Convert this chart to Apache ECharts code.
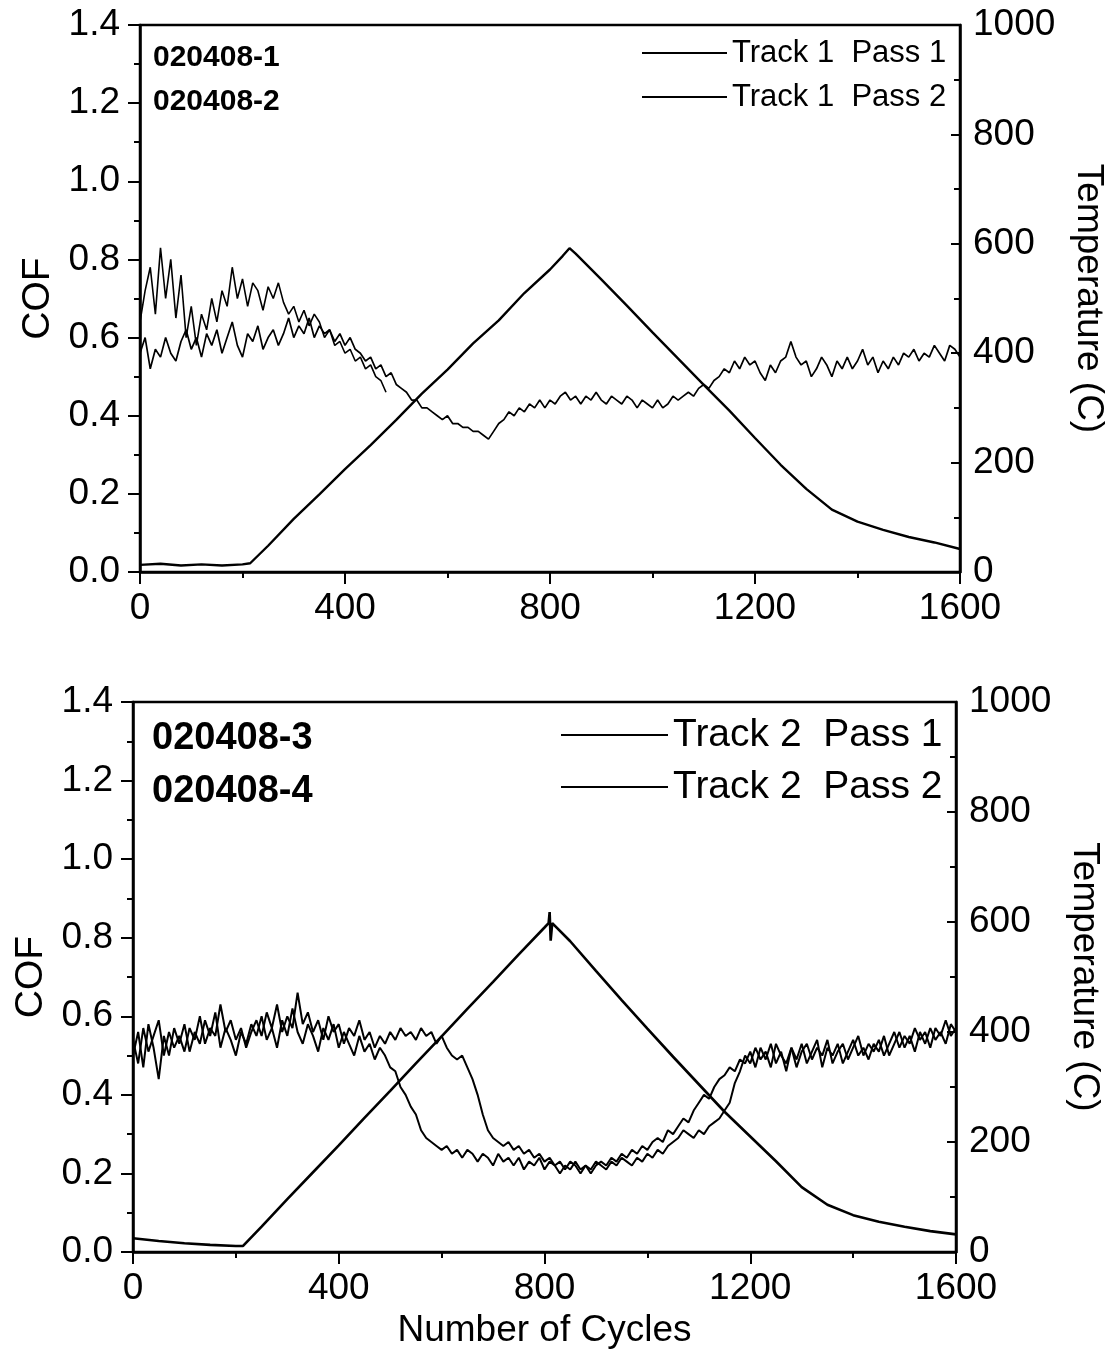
<!DOCTYPE html>
<html><head><meta charset="utf-8">
<script src="https://cdn.jsdelivr.net/npm/echarts@6/dist/echarts.min.js"></script>
<style>html,body{margin:0;padding:0;background:#fff}#c{width:1111px;height:1364px}</style>
</head><body><div id="c"></div>
<script>
// ---------- DATA ----------
const STEP = 10; // cycles between COF samples
const xTicks = [0, 400, 800, 1200, 1600];

// Top panel: COF, Track 1
const top_pass1_cof = [
0.56,0.60,0.52,0.57,0.55,0.60,0.56,0.54,0.59,0.62,
0.57,0.60,0.55,0.61,0.58,0.62,0.56,0.60,0.64,0.58,
0.55,0.61,0.59,0.63,0.57,0.60,0.62,0.58,0.61,0.65,
0.60,0.63,0.61,0.65,0.60,0.63,0.61,0.62,0.59,0.61,
0.58,0.60,0.57,0.56,0.54,0.55,0.52,0.53,0.50,0.51,
0.48,0.47,0.46,0.44,0.44,0.42,0.42,0.41,0.40,0.39,
0.40,0.38,0.38,0.37,0.37,0.36,0.36,0.35,0.34,0.36,
0.38,0.39,0.41,0.40,0.42,0.41,0.43,0.42,0.44,0.42,
0.44,0.43,0.45,0.46,0.44,0.45,0.43,0.45,0.44,0.46,
0.44,0.43,0.45,0.44,0.43,0.45,0.44,0.42,0.44,0.43,
0.42,0.44,0.42,0.43,0.45,0.44,0.45,0.46,0.45,0.47,
0.48,0.47,0.49,0.50,0.52,0.51,0.54,0.52,0.55,0.53,
0.54,0.51,0.49,0.53,0.51,0.54,0.55,0.59,0.55,0.53,
0.54,0.50,0.52,0.55,0.53,0.50,0.54,0.52,0.55,0.52,
0.54,0.57,0.53,0.55,0.51,0.54,0.52,0.55,0.53,0.56,
0.55,0.57,0.54,0.56,0.55,0.58,0.56,0.54,0.58,0.57,
0.55];
const top_pass2_cof = [
0.64,0.72,0.78,0.66,0.83,0.70,0.80,0.65,0.76,0.60,
0.68,0.58,0.66,0.62,0.70,0.64,0.72,0.68,0.78,0.70,
0.75,0.68,0.74,0.72,0.67,0.73,0.70,0.74,0.69,0.66,
0.68,0.64,0.67,0.63,0.66,0.64,0.60,0.62,0.58,0.59,
0.56,0.57,0.54,0.55,0.52,0.53,0.50,0.49,0.46];
// Top panel: temperature (C)
const top_temp_cycles = [0,40,80,120,160,200,215,250,300,350,400,450,500,550,600,650,700,750,800,825,838,850,900,950,1000,1050,1100,1150,1200,1250,1300,1350,1400,1450,1500,1550,1600];
const top_temp_values = [13,15,12,14,12,14,16,48,97,142,188,232,278,326,370,418,460,510,553,578,592,582,535,487,438,390,342,295,245,196,152,114,92,77,64,54,42];

// Bottom panel: COF, Track 2
const bot_pass1_cof = [
0.50,0.56,0.47,0.58,0.52,0.44,0.55,0.50,0.57,0.53,
0.58,0.51,0.56,0.53,0.59,0.55,0.61,0.52,0.57,0.54,
0.50,0.56,0.53,0.58,0.55,0.60,0.54,0.57,0.52,0.59,
0.55,0.62,0.56,0.53,0.58,0.55,0.51,0.57,0.54,0.58,
0.52,0.56,0.53,0.50,0.55,0.51,0.53,0.49,0.52,0.50,
0.47,0.46,0.42,0.40,0.37,0.35,0.31,0.29,0.28,0.27,
0.26,0.27,0.25,0.26,0.24,0.26,0.25,0.23,0.25,0.24,
0.22,0.25,0.23,0.24,0.22,0.24,0.21,0.23,0.22,0.24,
0.21,0.23,0.22,0.20,0.22,0.21,0.23,0.21,0.22,0.20,
0.22,0.23,0.22,0.24,0.23,0.25,0.24,0.26,0.25,0.27,
0.26,0.28,0.29,0.28,0.31,0.30,0.32,0.34,0.33,0.36,
0.38,0.40,0.39,0.42,0.44,0.45,0.47,0.46,0.49,0.48,
0.51,0.47,0.52,0.49,0.53,0.48,0.51,0.46,0.52,0.49,
0.53,0.48,0.51,0.54,0.47,0.52,0.50,0.53,0.48,0.51,
0.54,0.50,0.52,0.49,0.53,0.51,0.55,0.50,0.53,0.56,
0.52,0.55,0.51,0.56,0.53,0.57,0.54,0.56,0.53,0.58,
0.56];
const bot_pass2_cof = [
0.54,0.48,0.57,0.51,0.55,0.59,0.50,0.56,0.52,0.55,
0.51,0.57,0.54,0.60,0.53,0.57,0.55,0.63,0.56,0.59,
0.54,0.57,0.52,0.56,0.59,0.55,0.61,0.57,0.63,0.56,
0.60,0.57,0.66,0.58,0.61,0.56,0.59,0.54,0.60,0.56,
0.58,0.53,0.57,0.55,0.59,0.54,0.56,0.52,0.55,0.53,
0.56,0.54,0.57,0.55,0.56,0.54,0.57,0.55,0.56,0.53,
0.55,0.52,0.50,0.49,0.50,0.47,0.44,0.40,0.35,0.31,
0.29,0.28,0.27,0.28,0.26,0.27,0.25,0.26,0.24,0.25,
0.23,0.24,0.22,0.23,0.21,0.23,0.22,0.20,0.22,0.21,
0.23,0.22,0.21,0.23,0.22,0.24,0.23,0.22,0.24,0.23,
0.25,0.24,0.26,0.25,0.27,0.28,0.29,0.31,0.30,0.29,
0.31,0.30,0.32,0.33,0.34,0.36,0.38,0.43,0.46,0.50,
0.48,0.52,0.49,0.51,0.47,0.53,0.50,0.48,0.52,0.47,
0.51,0.53,0.49,0.52,0.50,0.54,0.48,0.51,0.53,0.49,
0.52,0.55,0.50,0.53,0.51,0.54,0.50,0.53,0.56,0.52,
0.55,0.53,0.57,0.54,0.56,0.52,0.57,0.55,0.59,0.55,
0.57];
// Bottom panel: temperature (C)
const bot_temp_cycles = [0,50,100,150,200,214,250,300,350,400,450,500,550,600,650,700,750,800,808,810,812,815,850,900,950,1000,1050,1100,1150,1200,1250,1300,1350,1400,1450,1500,1550,1600];
const bot_temp_values = [25,20,16,13,11,11,46,96,145,194,244,293,343,392,442,491,541,590,598,618,566,598,565,511,458,406,355,305,255,210,165,118,86,67,55,46,38,32];

const topLabels = ['020408-1', '020408-2'];
const botLabels = ['020408-3', '020408-4'];
const topNames = ['Track 1  Pass 1', 'Track 1  Pass 2'];
const botNames = ['Track 2  Pass 1', 'Track 2  Pass 2'];

// ---------- BUILD ----------
const FONT = "'Liberation Sans', Arial, Helvetica, sans-serif";
const pairs = arr => arr.map((v, i) => [i * STEP, v]);
const zip = (xs, ys) => xs.map((x, i) => [x, ys[i]]);

function xAxis(gi, name) {
  return {
    type: 'value', gridIndex: gi, min: xTicks[0], max: xTicks[xTicks.length - 1],
    interval: xTicks[1] - xTicks[0],
    name: name || '', nameLocation: 'middle', nameGap: 60,
    nameTextStyle: { fontSize: 37, color: '#000', fontFamily: FONT },
    axisLine: { show: true, onZero: false, lineStyle: { color: '#000', width: 2.5 } },
    axisTick: { show: true, length: 12, lineStyle: { color: '#000', width: 2 } },
    minorTick: { show: true, splitNumber: 2, length: 6, lineStyle: { color: '#000', width: 2 } },
    axisLabel: { fontSize: 37, color: '#000', margin: 18, fontFamily: FONT, formatter: v => String(v) },
    splitLine: { show: false }, minorSplitLine: { show: false }
  };
}
function yLeft(gi) {
  return {
    type: 'value', gridIndex: gi, position: 'left', min: 0, max: 1.4, interval: 0.2,
    name: 'COF', nameLocation: 'middle', nameGap: 82, nameRotate: 90,
    nameTextStyle: { fontSize: 39, color: '#000', fontFamily: FONT },
    axisLine: { show: true, lineStyle: { color: '#000', width: 2.5 } },
    axisTick: { show: true, length: 12, lineStyle: { color: '#000', width: 2 } },
    minorTick: { show: true, splitNumber: 2, length: 6, lineStyle: { color: '#000', width: 2 } },
    axisLabel: { fontSize: 37, color: '#000', margin: 20, fontFamily: FONT, formatter: v => v.toFixed(1) },
    splitLine: { show: false }
  };
}
function yRight(gi) {
  return {
    type: 'value', gridIndex: gi, position: 'right', min: 0, max: 1000, interval: 200,
    name: 'Temperature (C)', nameLocation: 'middle', nameGap: 110, nameRotate: -90,
    nameTextStyle: { fontSize: 37, color: '#000', fontFamily: FONT },
    axisLine: { show: true, lineStyle: { color: '#000', width: 2.5 } },
    axisTick: { show: true, inside: true, length: 9, lineStyle: { color: '#000', width: 2 } },
    minorTick: { show: true, splitNumber: 2, length: 6, lineStyle: { color: '#000', width: 2 } },
    axisLabel: { fontSize: 37, color: '#000', margin: 13, fontFamily: FONT, formatter: v => String(v) },
    splitLine: { show: false }
  };
}
function line(name, xi, yi, data, w) {
  return {
    type: 'line', name: name, xAxisIndex: xi, yAxisIndex: yi, data: data,
    showSymbol: false, symbol: 'none', animation: false,
    lineStyle: { color: '#000', width: w }, itemStyle: { color: '#000' }
  };
}

const option = {
  backgroundColor: '#fff',
  color: ['#000'],
  animation: false,
  grid: [
    { left: 140, right: 151, top: 25, height: 547, show: true, borderColor: '#000', borderWidth: 2.5,
      backgroundColor: 'transparent', containLabel: false, outerBoundsMode: 'none' },
    { left: 133, right: 155, top: 702, height: 550, show: true, borderColor: '#000', borderWidth: 2.5,
      backgroundColor: 'transparent', containLabel: false, outerBoundsMode: 'none' }
  ],
  xAxis: [xAxis(0), xAxis(1, 'Number of Cycles')],
  yAxis: [yLeft(0), yRight(0), yLeft(1), yRight(1)],
  title: [
    { text: topLabels.join('\n'), left: 153, top: 35, padding: 0,
      textStyle: { fontSize: 30, fontWeight: 'bold', lineHeight: 44.5, color: '#000', fontFamily: FONT } },
    { text: botLabels.join('\n'), left: 152, top: 712, padding: 0,
      textStyle: { fontSize: 38, fontWeight: 'bold', lineHeight: 53, color: '#000', fontFamily: FONT } }
  ],
  legend: [
    { data: topNames, orient: 'vertical', left: 642, top: 31, padding: 0, itemGap: 0,
      itemWidth: 85, itemHeight: 2, icon: 'rect', selectedMode: false,
      textStyle: { fontSize: 31, lineHeight: 44, color: '#000', fontFamily: FONT } },
    { data: botNames, orient: 'vertical', left: 561, top: 709, padding: 0, itemGap: 0,
      itemWidth: 107, itemHeight: 2, icon: 'rect', selectedMode: false,
      textStyle: { fontSize: 39, lineHeight: 52, color: '#000', fontFamily: FONT } }
  ],
  series: [
    line(topNames[0], 0, 0, pairs(top_pass1_cof), 1.7),
    line(topNames[1], 0, 0, pairs(top_pass2_cof), 1.6),
    line('Temp Track 1', 0, 1, zip(top_temp_cycles, top_temp_values), 2.4),
    line(botNames[0], 1, 2, pairs(bot_pass1_cof), 2),
    line(botNames[1], 1, 2, pairs(bot_pass2_cof), 2),
    line('Temp Track 2', 1, 3, zip(bot_temp_cycles, bot_temp_values), 2.6)
  ]
};
const chart = echarts.init(document.getElementById('c'), null, { renderer: 'canvas' });
chart.setOption(option);
</script></body></html>
